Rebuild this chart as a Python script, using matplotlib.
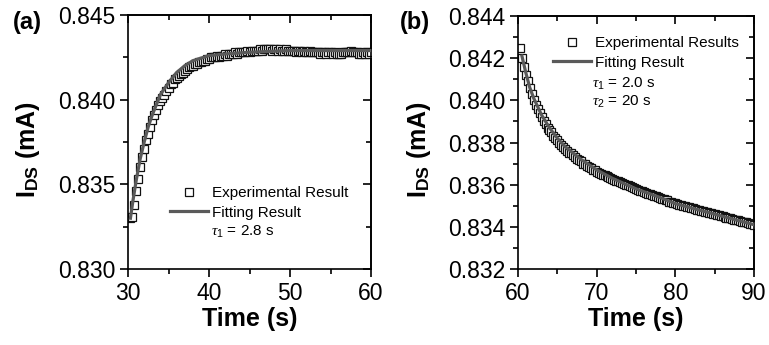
import matplotlib
matplotlib.use('Agg')
import matplotlib.pyplot as plt
from matplotlib.ticker import MultipleLocator, FormatStrFormatter

plt.rcParams['font.family'] = ['Liberation Sans', 'DejaVu Sans']
plt.rcParams['mathtext.fontset'] = 'custom'
plt.rcParams['mathtext.rm'] = 'Liberation Sans'
plt.rcParams['mathtext.bf'] = 'Liberation Sans:bold'
plt.rcParams['mathtext.it'] = 'Liberation Serif:italic'

# ---------------- data: panel (a) ----------------
t_exp_a = [30.3, 30.5, 30.75, 31.0, 31.25, 31.5, 31.75, 32.0, 32.25, 32.5, 32.75, 33.0,
           33.25, 33.5, 33.75, 34.0, 34.25, 34.5, 34.75, 35.0, 35.25, 35.5, 35.75, 36.0,
           36.25, 36.5, 36.75, 37.0, 37.25, 37.5, 37.75, 38.0, 38.25, 38.5, 38.75, 39.0,
           39.25, 39.5, 39.75, 40.0, 40.25, 40.5, 40.75, 41.0, 41.25, 41.5, 41.75, 42.0,
           42.25, 42.5, 42.75, 43.0, 43.25, 43.5, 43.75, 44.0, 44.25, 44.5, 44.75, 45.0,
           45.25, 45.5, 45.75, 46.0, 46.25, 46.5, 46.75, 47.0, 47.25, 47.5, 47.75, 48.0,
           48.25, 48.5, 48.75, 49.0, 49.25, 49.5, 49.75, 50.0, 50.25, 50.5, 50.75, 51.0,
           51.25, 51.5, 51.75, 52.0, 52.25, 52.5, 52.75, 53.0, 53.25, 53.5, 53.75, 54.0,
           54.25, 54.5, 54.75, 55.0, 55.25, 55.5, 55.75, 56.0, 56.25, 56.5, 56.75, 57.0,
           57.25, 57.5, 57.75, 58.0, 58.25, 58.5, 58.75, 59.0, 59.25, 59.5, 59.75, 60.0]
i_exp_a = [0.8330, 0.8331, 0.8338, 0.8346, 0.8353, 0.8360, 0.8366, 0.8371, 0.8376, 0.8380,
           0.8384, 0.8388, 0.8391, 0.8394, 0.8397, 0.8399, 0.8401, 0.8403, 0.8405, 0.8407,
           0.8409, 0.8410, 0.8412, 0.8413, 0.8414, 0.8415, 0.8416, 0.8417, 0.8418, 0.8419,
           0.8420, 0.8420, 0.8421, 0.8421, 0.8422, 0.8422, 0.8423, 0.8423, 0.8424, 0.8424,
           0.8425, 0.8425, 0.8425, 0.8426, 0.8425, 0.8426, 0.8426, 0.8427, 0.8426, 0.8427,
           0.8427, 0.8427, 0.8428, 0.8427, 0.8428, 0.8428, 0.8428, 0.8428, 0.8429, 0.8428,
           0.8429, 0.8429, 0.8429, 0.8429, 0.8430, 0.8429, 0.8430, 0.8430, 0.8430, 0.8430,
           0.8429, 0.8430, 0.8430, 0.8429, 0.8430, 0.8429, 0.8429, 0.8430, 0.8429, 0.8429,
           0.8429, 0.8429, 0.8428, 0.8429, 0.8429, 0.8428, 0.8429, 0.8428, 0.8428, 0.8429,
           0.8428, 0.8428, 0.8428, 0.8428, 0.8427, 0.8428, 0.8428, 0.8427, 0.8428, 0.8428,
           0.8427, 0.8428, 0.8427, 0.8427, 0.8427, 0.8428, 0.8428, 0.8428, 0.8428, 0.8429,
           0.8428, 0.8428, 0.8428, 0.8427, 0.8427, 0.8428, 0.8427, 0.8428, 0.8427, 0.8428]
t_fit_a = [30.3, 30.6, 31.0, 31.5, 32.0, 32.5, 33.0, 34.0, 35.0, 36.0, 37.0, 38.0, 40.0,
           42.0, 45.0, 50.0, 55.0, 60.0]
i_fit_a = [0.8330, 0.8340, 0.8352, 0.8365, 0.8375, 0.8384, 0.8391, 0.8403, 0.8410, 0.8416,
           0.8420, 0.8423, 0.8426, 0.8427, 0.8428, 0.8429, 0.8429, 0.8429]

# ---------------- data: panel (b) ----------------
t_exp_b = [60.3, 60.5, 60.75, 61.0, 61.25, 61.5, 61.75, 62.0, 62.25, 62.5, 62.75, 63.0,
           63.25, 63.5, 63.75, 64.0, 64.25, 64.5, 64.75, 65.0, 65.25, 65.5, 65.75, 66.0,
           66.25, 66.5, 66.75, 67.0, 67.25, 67.5, 67.75, 68.0, 68.25, 68.5, 68.75, 69.0,
           69.25, 69.5, 69.75, 70.0, 70.25, 70.5, 70.75, 71.0, 71.25, 71.5, 71.75, 72.0,
           72.25, 72.5, 72.75, 73.0, 73.25, 73.5, 73.75, 74.0, 74.25, 74.5, 74.75, 75.0,
           75.25, 75.5, 75.75, 76.0, 76.25, 76.5, 76.75, 77.0, 77.25, 77.5, 77.75, 78.0,
           78.25, 78.5, 78.75, 79.0, 79.25, 79.5, 79.75, 80.0, 80.25, 80.5, 80.75, 81.0,
           81.25, 81.5, 81.75, 82.0, 82.25, 82.5, 82.75, 83.0, 83.25, 83.5, 83.75, 84.0,
           84.25, 84.5, 84.75, 85.0, 85.25, 85.5, 85.75, 86.0, 86.25, 86.5, 86.75, 87.0,
           87.25, 87.5, 87.75, 88.0, 88.25, 88.5, 88.75, 89.0, 89.25, 89.5, 89.75, 90.0]
i_exp_b = [0.84250, 0.84200, 0.84160, 0.84120, 0.84090, 0.84060, 0.84030, 0.84000, 0.83980,
           0.83960, 0.83940, 0.83920, 0.83900, 0.83890, 0.83870, 0.83860, 0.83850, 0.83830,
           0.83820, 0.83810, 0.83800, 0.83790, 0.83780, 0.83770, 0.83760, 0.83750, 0.83748,
           0.83740, 0.83730, 0.83720, 0.83718, 0.83710, 0.83700, 0.83698, 0.83690, 0.83686,
           0.83680, 0.83670, 0.83668, 0.83660, 0.83656, 0.83651, 0.83648, 0.83645, 0.83640,
           0.83635, 0.83632, 0.83629, 0.83624, 0.83619, 0.83616, 0.83613, 0.83608, 0.83603,
           0.83600, 0.83597, 0.83592, 0.83587, 0.83584, 0.83581, 0.83576, 0.83572, 0.83569,
           0.83567, 0.83562, 0.83558, 0.83555, 0.83553, 0.83548, 0.83544, 0.83541, 0.83539,
           0.83534, 0.83530, 0.83527, 0.83525, 0.83520, 0.83516, 0.83513, 0.83511, 0.83507,
           0.83504, 0.83502, 0.83501, 0.83497, 0.83494, 0.83492, 0.83491, 0.83487, 0.83484,
           0.83482, 0.83481, 0.83477, 0.83474, 0.83472, 0.83471, 0.83467, 0.83464, 0.83462,
           0.83461, 0.83457, 0.83454, 0.83452, 0.83451, 0.83447, 0.83444, 0.83442, 0.83441,
           0.83437, 0.83434, 0.83432, 0.83431, 0.83427, 0.83424, 0.83422, 0.83421, 0.83417,
           0.83414, 0.83412, 0.83410]
t_fit_b = [60.5, 61.0, 61.5, 62.0, 63.0, 64.0, 65.0, 66.0, 68.0, 70.0, 72.0, 75.0, 78.0,
           80.0, 83.0, 86.0, 90.0]
i_fit_b = [0.8421, 0.8413, 0.8406, 0.8401, 0.8393, 0.8387, 0.8382, 0.8378, 0.8372, 0.8367,
           0.8363, 0.8358, 0.8354, 0.8351, 0.8348, 0.8345, 0.8341]

labels_a = ['Experimental Result', 'Fitting Result']
labels_b = ['Experimental Results', 'Fitting Result']
tau_a = [r'$\it{\tau}_{1}$ = 2.8 s']
tau_b = [r'$\it{\tau}_{1}$ = 2.0 s', r'$\it{\tau}_{2}$ = 20 s']

LINE_C = '#5a5a5a'
EDGE_C = '#111111'

fig = plt.figure(figsize=(7.69, 3.45), dpi=100)
axA = fig.add_axes([128/769, 76/345, 243/769, 254/345])
axB = fig.add_axes([518/769, 76/345, 236/769, 253/345])


def style(ax, xlim, ylim, xmaj, ymaj):
    ax.set_xlim(*xlim)
    ax.set_ylim(*ylim)
    for s in ax.spines.values():
        s.set_linewidth(1.2)
    ax.xaxis.set_major_locator(MultipleLocator(xmaj))
    ax.xaxis.set_minor_locator(MultipleLocator(xmaj / 2))
    ax.yaxis.set_major_locator(MultipleLocator(ymaj))
    ax.yaxis.set_minor_locator(MultipleLocator(ymaj / 2))
    ax.yaxis.set_major_formatter(FormatStrFormatter('%.3f'))
    ax.tick_params(which='major', direction='out', length=6, width=1.2,
                   labelsize=16.5, pad=3)
    ax.tick_params(which='minor', direction='out', length=3.5, width=1.2)
    sx = ax.secondary_xaxis('top')
    sx.xaxis.set_major_locator(MultipleLocator(xmaj))
    sx.xaxis.set_minor_locator(MultipleLocator(xmaj / 2))
    sx.tick_params(which='major', direction='in', length=6, width=1.2, labeltop=False)
    sx.tick_params(which='minor', direction='in', length=3.5, width=1.2)
    sx.spines['top'].set_linewidth(1.2)
    sy = ax.secondary_yaxis('right')
    sy.yaxis.set_major_locator(MultipleLocator(ymaj))
    sy.yaxis.set_minor_locator(MultipleLocator(ymaj / 2))
    sy.tick_params(which='major', direction='in', length=6, width=1.2, labelright=False)
    sy.tick_params(which='minor', direction='in', length=3.5, width=1.2)
    sy.spines['right'].set_linewidth(1.2)
    ax.set_xlabel('Time (s)', fontsize=18, fontweight='bold', labelpad=2)
    ax.set_ylabel(r'$\mathbf{I}_{\mathbf{DS}}$ (mA)', fontsize=18, fontweight='bold')


def draw(ax, t_exp, i_exp, t_fit, i_fit, labels, anchor):
    sq, = ax.plot(t_exp, i_exp, linestyle='none', marker='s', markersize=5.2,
                  markerfacecolor='white', markeredgecolor=EDGE_C, markeredgewidth=0.9,
                  zorder=2)
    ln, = ax.plot(t_fit, i_fit, color=LINE_C, linewidth=2.3, zorder=3)
    ax.legend([sq, ln], labels, loc='upper left', bbox_to_anchor=anchor,
              frameon=False, fontsize=11, handlelength=2.5, handletextpad=0.25,
              labelspacing=0.35, borderpad=0, borderaxespad=0, numpoints=1)


style(axA, (30, 60), (0.830, 0.845), 10, 0.005)
style(axB, (60, 90), (0.832, 0.844), 10, 0.002)
draw(axA, t_exp_a, i_exp_a, t_fit_a, i_fit_a, labels_a, (0.173, 0.325))
draw(axB, t_exp_b, i_exp_b, t_fit_b, i_fit_b, labels_b, (0.148, 0.920))

axA.text(0.342, 0.146, tau_a[0], transform=axA.transAxes, fontsize=11, va='center')
axB.text(0.314, 0.731, tau_b[0], transform=axB.transAxes, fontsize=11, va='center')
axB.text(0.314, 0.660, tau_b[1], transform=axB.transAxes, fontsize=11, va='center')

axA.yaxis.set_label_coords(-0.354, 0.47)
axB.yaxis.set_label_coords(-0.36, 0.47)

fig.text(13/769, 1 - 23/345, '(a)', fontsize=17, fontweight='bold', va='center', ha='left')
fig.text(400/769, 1 - 23/345, '(b)', fontsize=17, fontweight='bold', va='center', ha='left')

fig.savefig('out.png', dpi=100)
